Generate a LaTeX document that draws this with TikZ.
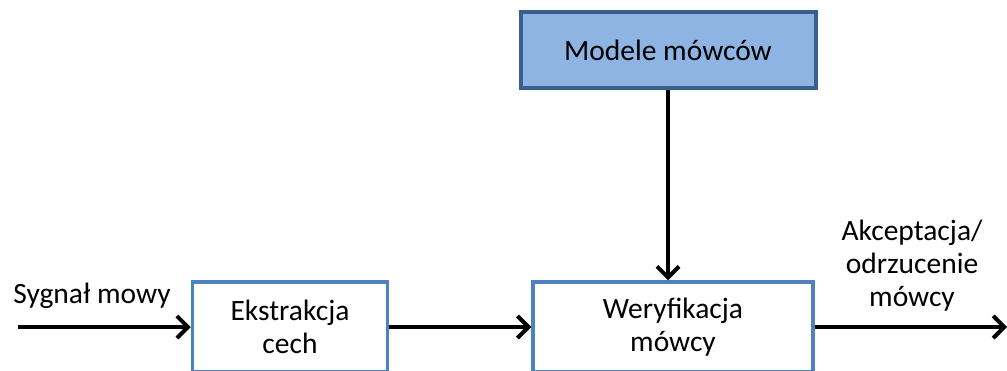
\documentclass[tikz,border=0pt]{standalone}
\usepackage{fontspec}
\setmainfont{Carlito}
\usepackage{xcolor}
\usetikzlibrary{positioning,arrows.meta}
\definecolor{boxblue}{HTML}{4F81BD}
\definecolor{modelfill}{HTML}{8EB4E3}
\definecolor{modeledge}{HTML}{3A5F8C}

\begin{document}
\begin{tikzpicture}[x=1pt, y=-1pt,
    block/.style={draw=boxblue, line width=3.5pt, fill=white, align=center,
                  font=\fontsize{29.5}{33}\selectfont, inner sep=0pt},
    model/.style={draw=modeledge, line width=4pt, fill=modelfill,
                  font=\fontsize{29.5}{33}\selectfont, inner sep=0pt},
    flow/.style={line width=4.5pt, -{Straight Barb[length=11pt,width=22pt,line width=4pt]}},
    label/.style={align=center, font=\fontsize{29.5}{33}\selectfont},
]
\useasboundingbox (0,0) rectangle (1007,370);
\node[model, minimum width=295pt, minimum height=76pt] (models) at (668,50)
    {Modele mówców};
\node[block, minimum width=195pt, minimum height=90pt] (feat) at (290,327)
    {Ekstrakcja\\cech};
\node[block, minimum width=280pt, minimum height=90pt] (verif) at (673,327)
    {Weryfikacja\\mówcy};
\coordinate (in) at (18,327);
\coordinate (out) at (1007,327);
\draw[flow] (in) -- (feat);
\draw[flow] (feat) -- (verif);
\draw[flow] (models.south) -- (models.south |- verif.north);
\draw[flow] (verif) -- (out);
\node[label] (signal) at (92,296) {Sygnał mowy};
\node[label] (decision) at (912,266) {Akceptacja/\\odrzucenie\\mówcy};
\end{tikzpicture}
\end{document}
